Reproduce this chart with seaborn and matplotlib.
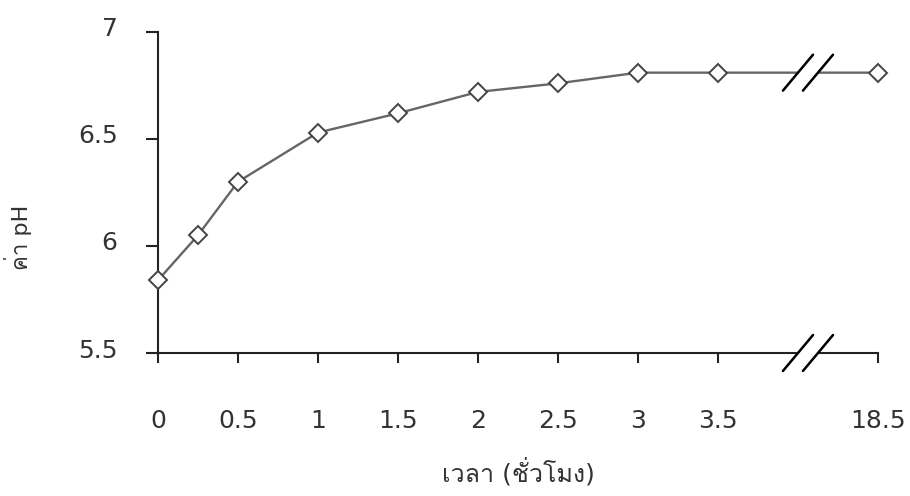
import numpy as np
import pandas as pd
import matplotlib
matplotlib.use("Agg")
import matplotlib.pyplot as plt
from matplotlib import font_manager
from matplotlib.ft2font import FT2Font
from matplotlib.patches import Polygon
from matplotlib.transforms import ScaledTranslation
import seaborn as sns

# data: time (hours) and pH
hours = [0, 0.25, 0.5, 1, 1.5, 2, 2.5, 3, 3.5, 18.5]
ph = [5.84, 6.05, 6.30, 6.53, 6.62, 6.72, 6.76, 6.81, 6.81, 6.81]
xtick_labels = ["0", "0.5", "1", "1.5", "2", "2.5", "3", "3.5", "18.5"]
ytick_values = [5.5, 6, 6.5, 7]

# find an installed font that has Thai glyphs
thai_font = None
for f in font_manager.fontManager.ttflist:
    try:
        if 0x0E40 in FT2Font(f.fname).get_charmap():
            thai_font = f.name
            break
    except Exception:
        pass

sns.set_style("white")
fams = ["DejaVu Sans"]
if thai_font:
    fams.append(thai_font)
plt.rcParams["font.family"] = fams

# broken axis: 18.5 h is drawn one unit after 3.5 h
pos = [h if h <= 3.5 else 4.5 for h in hours]
df = pd.DataFrame({"pos": pos, "ph": ph})

fig = plt.figure(figsize=(9.10, 4.96), dpi=100)
ax = fig.add_axes([0.1736, 0.2883, 0.7912, 0.6472])

sns.lineplot(data=df, x="pos", y="ph", ax=ax, color="#666666", linewidth=1.7,
             marker="D", markersize=9, markerfacecolor="white",
             markeredgecolor="#444444", markeredgewidth=1.4, zorder=3,
             clip_on=False)

ax.set_xlim(0, 4.5)
ax.set_ylim(5.5, 7)
ax.set_xticks([0, 0.5, 1, 1.5, 2, 2.5, 3, 3.5, 4.5])
ax.set_xticklabels(xtick_labels)
ax.set_yticks(ytick_values)
ax.set_yticklabels(["5.5", "6", "6.5", "7"])

for s in ["top", "right"]:
    ax.spines[s].set_visible(False)
for s in ["left", "bottom"]:
    ax.spines[s].set_color("#222222")
    ax.spines[s].set_linewidth(1.5)

ax.tick_params(axis="y", direction="out", length=9, width=1.5, color="#222222",
               labelsize=18, labelcolor="#333333", pad=20, left=True)
ax.tick_params(axis="x", direction="out", length=7, width=1.5, color="#222222",
               labelsize=18, labelcolor="#333333", pad=33, bottom=True)

# y tick labels sit a little above their ticks in the original
for lab in ax.get_yticklabels():
    lab.set_transform(lab.get_transform() + ScaledTranslation(0, 5 / 100, fig.dpi_scale_trans))

ax.set_xlabel("เวลา (ชั่วโมง)", fontsize=18, color="#333333")
ax.set_ylabel("ค่า pH", fontsize=16, color="#333333")
ax.xaxis.label.set_va("center")
ax.yaxis.label.set_va("center")
ax.xaxis.set_label_coords(0.5, -0.37)
ax.yaxis.set_label_coords(-0.195, 0.36)

# break marks on the line and the x axis
dx, dy = 0.094, 0.084
xb1, xb2 = 4.0, 4.125
for yb in [ph[-1], 5.5]:
    gap = Polygon([[xb1 - dx, yb - dy], [xb1 + dx, yb + dy],
                   [xb2 + dx, yb + dy], [xb2 - dx, yb - dy]],
                  closed=True, facecolor="white", edgecolor="none",
                  zorder=4, clip_on=False)
    ax.add_patch(gap)
    for xb in [xb1, xb2]:
        ax.plot([xb - dx, xb + dx], [yb - dy, yb + dy], color="black",
                linewidth=1.8, zorder=5, clip_on=False)

plt.savefig("out.png", dpi=100)
